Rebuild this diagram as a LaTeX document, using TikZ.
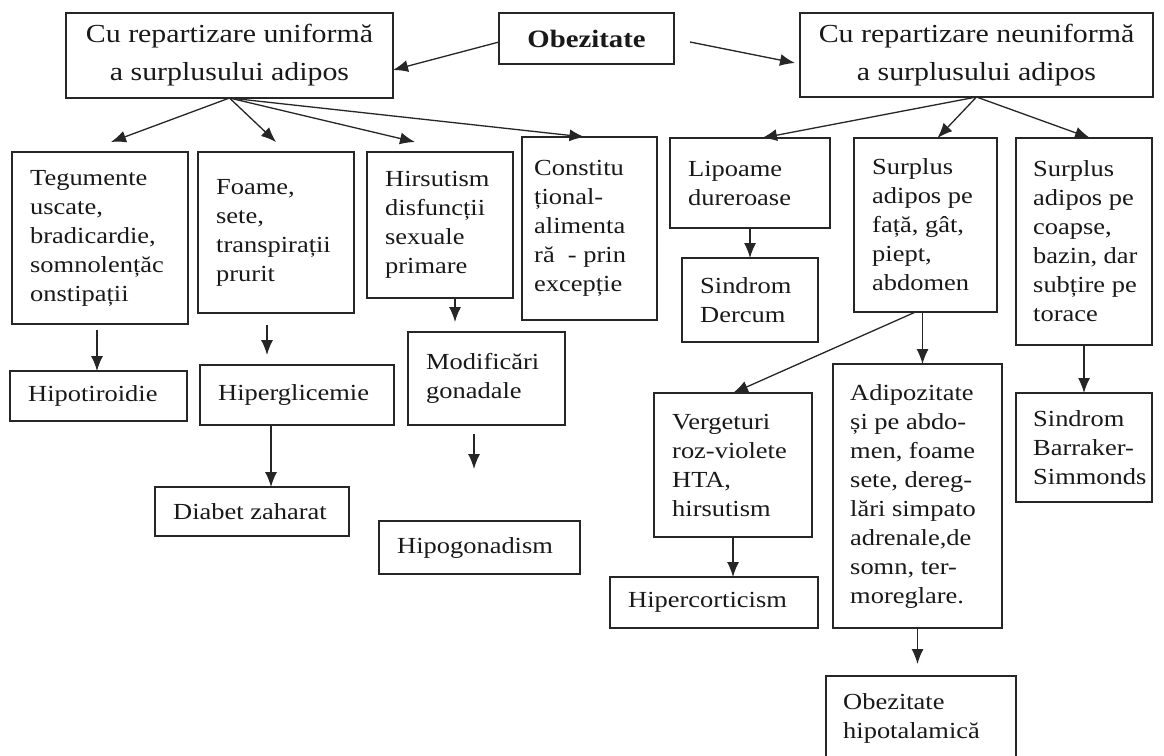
\documentclass[tikz,border=0pt]{standalone}
\usepackage{fontspec}
\setmainfont{Liberation Serif}[FakeStretch=1.15]
\usetikzlibrary{arrows.meta}
\newcommand\mybox[7][18]{%
  \node[box, anchor=north west, minimum width={(#5)-(#3)}, minimum height={(#6)-(#4)}] (#2) at (#3,#4) {};
  \node[txt, anchor=west] (#2t) at ([xshift=#1pt]#2.west) {#7};}
\begin{document}
\begin{tikzpicture}[x=1pt,y=-1pt,
  box/.style={draw=black!85, line width=1.5pt, rectangle, inner sep=0pt, outer sep=0pt},
  txt/.style={inner sep=0pt, align=left, font=\fontsize{23}{29}\selectfont, text=black!90},
  topbox/.style={box, anchor=north west, font=\fontsize{26}{38}\selectfont, align=center, text=black!90},
  arr/.style={draw=black!85, line width=1.3pt, -{Latex[length=15pt,width=12pt]}}]
\useasboundingbox (0,0) rectangle (1164,755);
\fill[white] (0,0) rectangle (1164,755);
\clip (0,0) rectangle (1164,755);

% top row
\node[topbox, minimum width=327pt, minimum height=85pt] (A) at (66,13) {Cu repartizare uniformă\\a surplusului adipos};
\node[box, anchor=north west, minimum width=175pt, minimum height=51pt, font=\fontsize{25}{30}\selectfont\bfseries, text=black!90] (O) at (499,13) {Obezitate};
\node[topbox, minimum width=353pt, minimum height=84pt] (B) at (800,13) {Cu repartizare neuniformă\\a surplusului adipos};

% second row
\mybox{T}{12}{152}{188}{324}{Tegumente\\uscate,\\bradicardie,\\somnolențăc\\onstipații}
\mybox{F}{198}{152}{354}{313}{Foame,\\sete,\\transpirații\\prurit}
\mybox{H}{367}{152}{513}{298}{Hirsutism\\disfuncții\\sexuale\\primare}
\mybox[12]{C}{522}{137}{657}{320}{Constitu\\țional-\\alimenta\\ră\ \ - prin\\excepție}
\mybox{L}{670}{138}{830}{228}{Lipoame\\dureroase}
\mybox{S}{854}{138}{997}{312}{Surplus\\adipos pe\\față, gât,\\piept,\\abdomen}
\mybox[17]{R}{1016}{138}{1152}{345}{Surplus\\adipos pe\\coapse,\\bazin, dar\\subțire pe\\torace}

% lower rows
\mybox{Ht}{10}{371}{187}{421}{Hipotiroidie}
\mybox{Hg}{200}{365}{394}{425}{Hiperglicemie}
\mybox{M}{408}{332}{565}{425}{Modificări\\gonadale}
\mybox{Dz}{155}{487}{349}{536}{Diabet zaharat}
\mybox{Hp}{379}{521}{580}{574}{Hipogonadism}
\mybox{D}{682}{258}{818}{342}{Sindrom\\Dercum}
\mybox{V}{654}{393}{812}{537}{Vergeturi\\roz-violete\\HTA,\\hirsutism}
\mybox[17]{Ad}{833}{364}{1002}{628}{Adipozitate\\și pe abdo-\\men, foame\\sete, dereg-\\lări simpato\\adrenale,de\\somn, ter-\\moreglare.}
\mybox[17]{Bk}{1016}{393}{1152}{502}{Sindrom\\Barraker-\\Simmonds}
\mybox{Hc}{610}{577}{818}{628}{Hipercorticism}
\mybox[17]{Oh}{826}{676}{1016}{760}{Obezitate\\hipotalamică}

% connectors
\draw[arr] ([yshift=-3.5pt]O.west) -- ([yshift=-14.5pt]A.east);
\draw[arr] ([xshift=16pt,yshift=-3.5pt]O.east) -- ([xshift=-5pt,yshift=-8pt]B.west);
\draw[arr] (A.south) -- ([xshift=11pt,yshift=10pt]T.north);
\draw[arr] (A.south) -- ([yshift=10pt]F.north);
\draw[arr] (A.south) -- ([xshift=-25pt,yshift=10pt]H.north);
\draw[arr] (A.south) -- ([xshift=-5pt]C.north);
\draw[arr] (B.south) -- ([xshift=12pt]L.north);
\draw[arr] (B.south) -- ([xshift=12pt]S.north);
\draw[arr] (B.south) -- ([xshift=6pt]R.north);
\draw[arr] ([xshift=-3pt,yshift=-6pt]T.south) -- ([xshift=-1.5pt]Ht.north);
\draw[arr] ([xshift=-9pt,yshift=-12pt]F.south) -- ([xshift=-9pt,yshift=-42pt]F.south);
\draw[arr] ([xshift=-26pt]Hg.south) -- ([xshift=19pt]Dz.north);
\draw[arr] ([xshift=15pt]H.south) -- ([xshift=-31.5pt,yshift=10pt]M.north);
\draw[arr] ([xshift=-12.5pt,yshift=-9pt]M.south) -- ([xshift=-5.5pt,yshift=52pt]Hp.north);
\draw[arr] (L.south) -- (D.north);
\draw[arr] ([xshift=-10pt]S.south) -- (V.north);
\draw[arr] ([xshift=-3pt]S.south) -- ([xshift=5pt]Ad.north);
\draw[arr] (R.south) -- (Bk.north);
\draw[arr] (V.south) -- ([xshift=19pt]Hc.north);
\draw[arr] (Ad.south) -- ([xshift=-3.5pt,yshift=12pt]Oh.north);
\end{tikzpicture}
\end{document}
